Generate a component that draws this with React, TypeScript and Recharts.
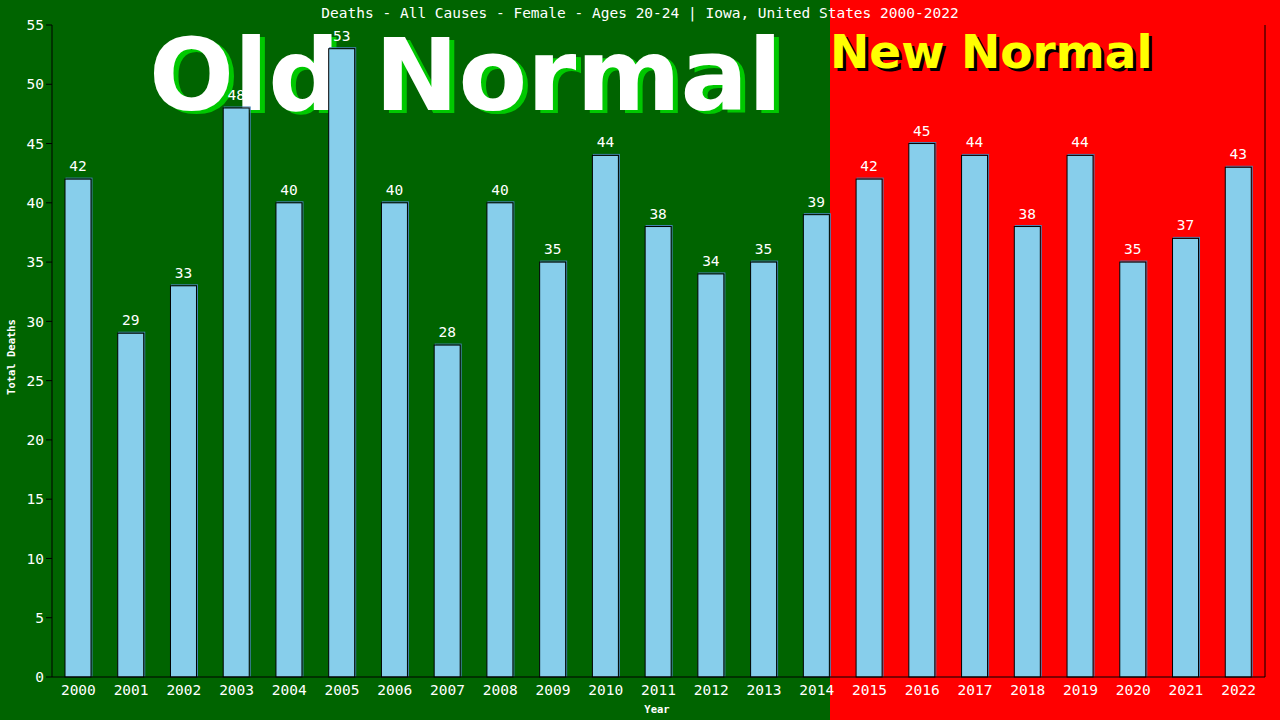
import React from 'react';
import { BarChart, Bar, XAxis, YAxis, LabelList } from 'recharts';

// Yearly deaths
const years = [
  '2000', '2001', '2002', '2003', '2004', '2005', '2006', '2007', '2008', '2009', '2010', '2011',
  '2012', '2013', '2014', '2015', '2016', '2017', '2018', '2019', '2020', '2021', '2022',
];
const deaths = [42, 29, 33, 48, 40, 53, 40, 28, 40, 35, 44, 38, 34, 35, 39, 42, 45, 44, 38, 44, 35, 37, 43];
const yTicks = [0, 5, 10, 15, 20, 25, 30, 35, 40, 45, 50, 55];

const chartData = years.map((year, i) => ({ year, deaths: deaths[i] }));

const mono = '"DejaVu Sans Mono", monospace';
const bold = '"DejaVu Sans", sans-serif';

// bar with a steelblue outline nudged up-right behind the black border
const BarShape = (props: any) => {
  const { x, y, width, height } = props;
  return (
    <g>
      <rect x={x + 1} y={y - 1} width={width} height={height} fill="none" stroke="#4682B4" strokeWidth={1} />
      <rect x={x} y={y} width={width} height={height} fill="#87CEEB" stroke="#000" strokeWidth={1} />
    </g>
  );
};

const App = () => {
  return (
    <div style={{ position: 'fixed', left: 0, top: 0, width: 1280, height: 720, overflow: 'hidden' }}>
      {/* background split */}
      <div style={{ position: 'absolute', left: 0, top: 0, width: 830, height: 720, background: '#006400' }} />
      <div style={{ position: 'absolute', left: 830, top: 0, width: 450, height: 720, background: '#ff0000' }} />

      {/* big headings behind the bars */}
      <svg width={1280} height={720} style={{ position: 'absolute', left: 0, top: 0 }}>
        <text x={154} y={113} fontFamily={bold} fontWeight="bold" fontSize={100} fill="#00c800">Old Normal</text>
        <text x={149} y={110} fontFamily={bold} fontWeight="bold" fontSize={100} fill="#ffffff">Old Normal</text>
        <text x={833} y={71} fontFamily={bold} fontWeight="bold" fontSize={47} fill="#000000">New Normal</text>
        <text x={830} y={68} fontFamily={bold} fontWeight="bold" fontSize={47} fill="#ffff00">New Normal</text>
        <text x={640} y={18} textAnchor="middle" fontFamily={mono} fontSize={14.5} fill="#fff">
          Deaths - All Causes - Female - Ages 20-24 | Iowa, United States 2000-2022
        </text>
        <text x={657} y={713} textAnchor="middle" fontFamily={mono} fontWeight="bold" fontSize={10.5} fill="#fff">Year</text>
        <text
          x={15}
          y={357}
          textAnchor="middle"
          transform="rotate(-90 15 357)"
          fontFamily={mono}
          fontWeight="bold"
          fontSize={10.5}
          fill="#fff"
        >
          Total Deaths
        </text>
      </svg>

      <div style={{ position: 'absolute', left: 0, top: 0 }}>
        <BarChart width={1280} height={720} data={chartData} margin={{ top: 25, right: 0, bottom: 0, left: 0 }} barSize={26}>
          <XAxis
            dataKey="year"
            height={43}
            tickLine={false}
            axisLine={{ stroke: '#000' }}
            tick={{ fill: '#fff', fontSize: 14.5, fontFamily: mono }}
            interval={0}
          />
          <YAxis
            yAxisId="left"
            width={52}
            domain={[0, 55]}
            ticks={yTicks}
            interval={0}
            tickLine={{ stroke: '#000' }}
            axisLine={{ stroke: '#000' }}
            tick={{ fill: '#fff', fontSize: 14.5, fontFamily: mono }}
          />
          <YAxis
            yAxisId="right"
            orientation="right"
            width={15}
            domain={[0, 55]}
            tick={false}
            tickLine={false}
            axisLine={{ stroke: '#000' }}
          />
          <Bar yAxisId="left" dataKey="deaths" shape={<BarShape />} isAnimationActive={false}>
            <LabelList dataKey="deaths" position="top" offset={8} fill="#fff" fontSize={14.5} fontFamily={mono} />
          </Bar>
        </BarChart>
      </div>
    </div>
  );
};

export default App;
